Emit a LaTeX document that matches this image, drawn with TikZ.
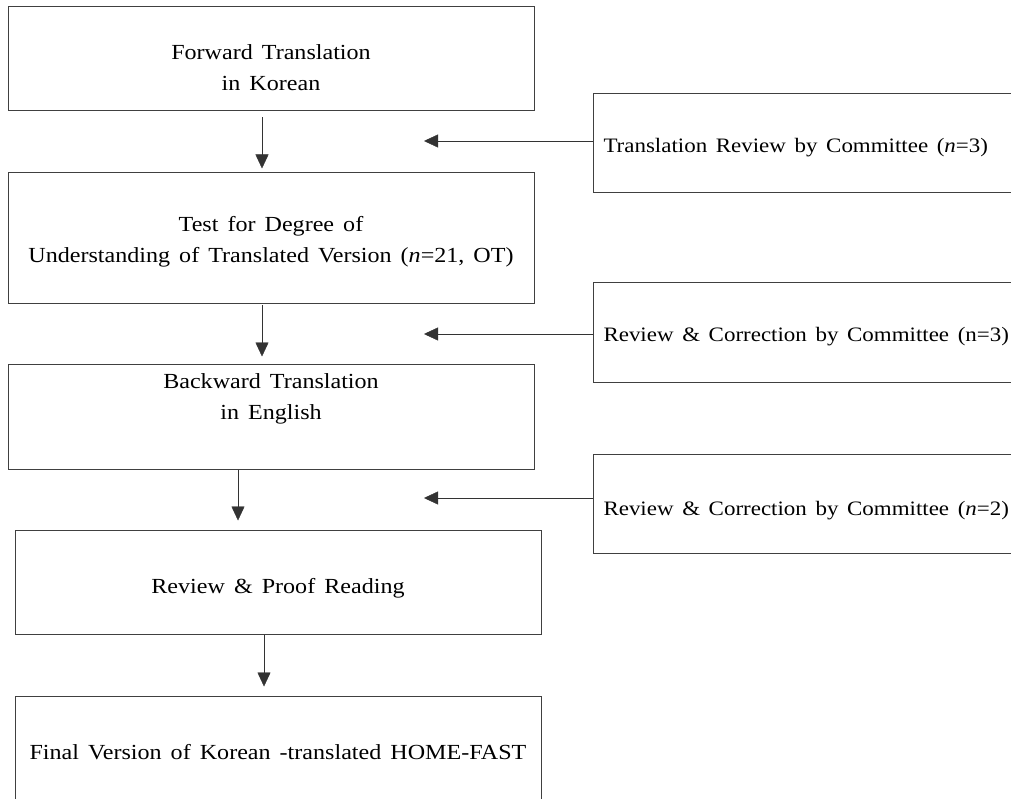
\documentclass[tikz,border=0pt]{standalone}
\usepackage{fontspec}
\setmainfont{Liberation Serif}[FakeStretch=1.12,WordSpace=1.5]
\usepackage{tikz}
\usetikzlibrary{arrows.meta}
\tikzset{stage/.style={rectangle,draw=black!75,line width=1pt,minimum width=526pt,align=center,font=\fontsize{21.5}{31}\selectfont},
         review/.style={rectangle,draw=black!75,line width=1pt,anchor=west,minimum height=99pt,text width=440pt,inner xsep=10pt,align=flush left,text height=22pt,font=\fontsize{20.5}{31}\selectfont}}

\begin{document}
\begin{tikzpicture}[x=1pt,y=-1pt,>={Triangle[length=14pt,width=13pt]}]
        \useasboundingbox (0,0) rectangle (1011,799);
        \node[stage,minimum height=104pt,text height=64pt] (fwd)at (271,59) {Forward Translation\\in Korean};
        \node[stage,minimum height=131pt,text height=52pt] (test)at (271,238.5) {Test for Degree of\\Understanding of Translated Version (\textit{n}=21, OT)};
        \node[stage,minimum height=105pt,text depth=40pt] (bwd)at (271,416.5) {Backward Translation\\in English};
        \node[stage,minimum height=104pt,text height=27pt] (proof)at (278,582) {Review \& Proof Reading};
        \node[stage,minimum height=112pt] (final)at (278,752) {Final Version of Korean -translated HOME-FAST};

        \node[review] (rev1)at (593,143.5) {Translation Review by Committee (\textit{n}=3)};
        \node[review] (rev2)at (593,332.5) {Review \& Correction by Committee (n=3)};
        \node[review,text height=28pt] (rev3)at (593,504) {Review \& Correction by Committee (\textit{n}=2)};

        \coordinate (h1) at (424,141);
        \coordinate (h2) at (424,334);
        \coordinate (h3) at (424,498);

        \draw [->,black!80] ([xshift=-9pt,yshift=-6pt]fwd.south) to ([xshift=-9pt,yshift=4pt]test.north);
        \draw [->,black!80] ([xshift=-9pt,yshift=-1pt]test.south) to ([xshift=-9pt,yshift=7pt]bwd.north);
        \draw [->,black!80] ([xshift=-33pt]bwd.south) to ([xshift=-40pt,yshift=9pt]proof.north);
        \draw [->,black!80] ([xshift=-14pt]proof.south) to ([xshift=-14pt,yshift=9pt]final.north);
        \draw [->,black!80] (rev1.west |- h1) to (h1);
        \draw [->,black!80] (rev2.west |- h2) to (h2);
        \draw [->,black!80] (rev3.west |- h3) to (h3);
    \end{tikzpicture}
\end{document}
